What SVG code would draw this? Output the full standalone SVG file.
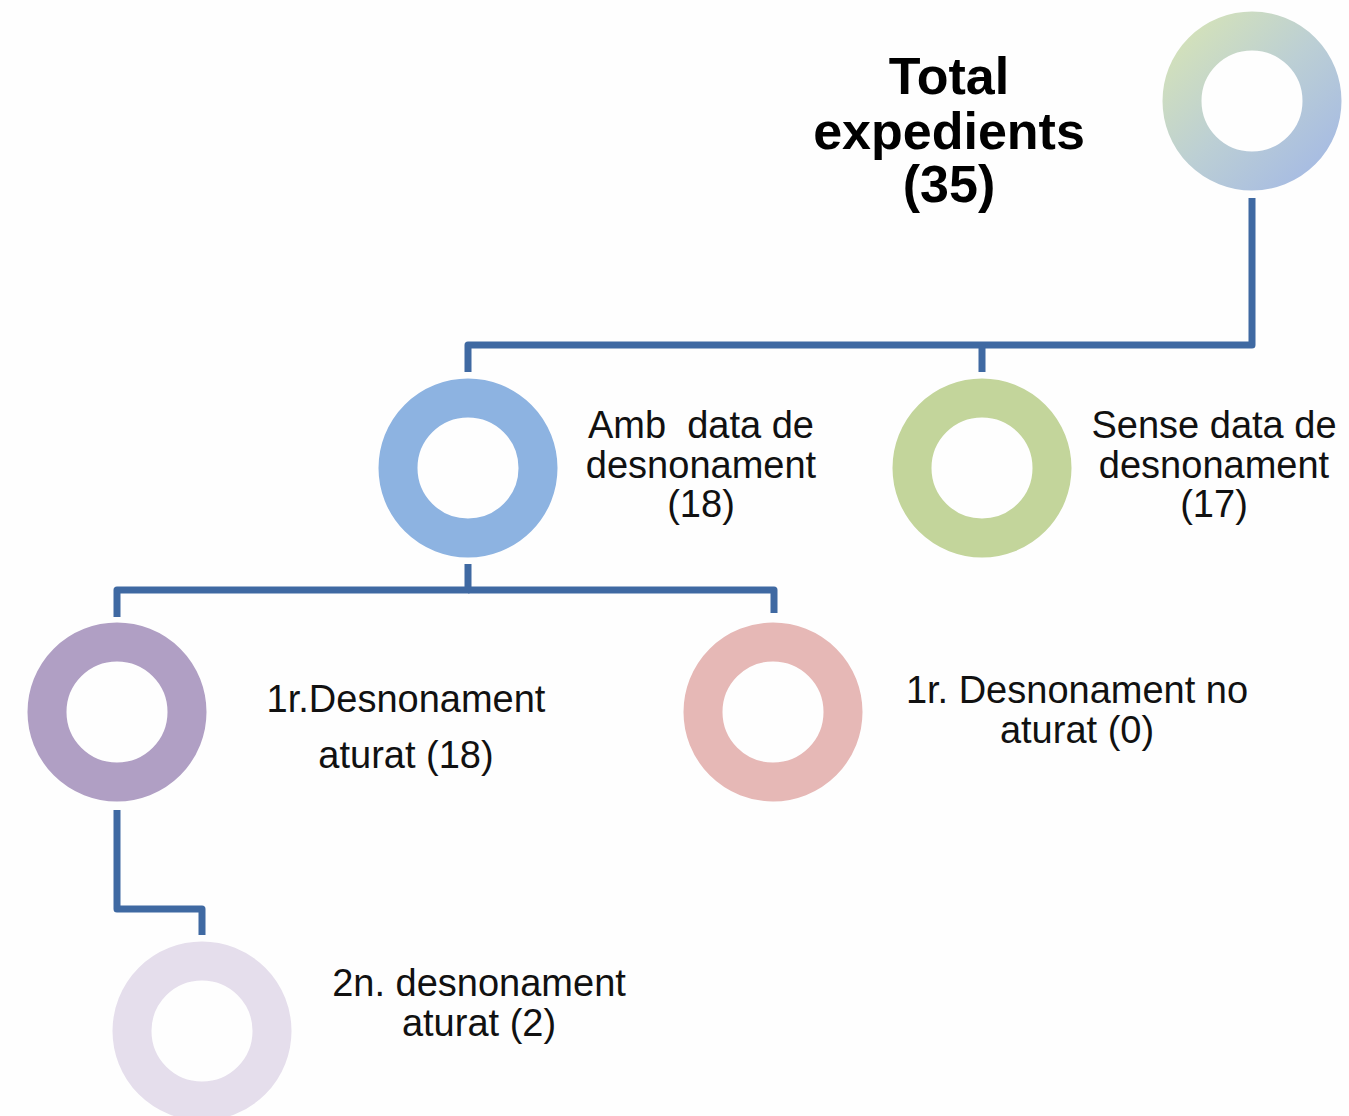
<svg xmlns="http://www.w3.org/2000/svg" width="1349" height="1116" viewBox="0 0 1349 1116">
<style>
.ring{fill:none;stroke-width:39}
.conn{fill:none;stroke:#3f69a2;stroke-width:7;stroke-linejoin:round}
.lbl{font-family:"Liberation Sans",Arial,sans-serif;font-size:38px;fill:#111;text-anchor:middle}
.title{font-family:"Liberation Sans",Arial,sans-serif;font-size:52px;font-weight:bold;fill:#000;text-anchor:middle}
</style>
<defs>
<linearGradient id="g1" x1="0" y1="0" x2="1" y2="1">
<stop offset="0" stop-color="#d4e2b9"/>
<stop offset="0.5" stop-color="#bccfd4"/>
<stop offset="1" stop-color="#a6bbe3"/>
</linearGradient>
</defs>
<rect width="1349" height="1116" fill="#fefefe"/>
<g id="connectors">
<path class="conn" d="M1252,198 V345 H468 V372"/>
<path class="conn" d="M982,345 V372"/>
<path class="conn" d="M468,564 V590 H117 V617"/>
<path class="conn" d="M468,590 H774 V613"/>
<path class="conn" d="M117,810 V909 H202 V935"/>
</g>
<g id="n-total">
<circle class="ring" cx="1252" cy="101" r="70" stroke="url(#g1)"/>
<text class="title"><tspan x="949" y="94">Total</tspan><tspan x="949" y="149">expedients</tspan><tspan x="949" y="202">(35)</tspan></text>
</g>
<g id="n-amb">
<circle class="ring" cx="468" cy="468" r="70" stroke="#8db3e1"/>
<text class="lbl"><tspan x="701" y="438">Amb&#160; data de</tspan><tspan x="701" y="478">desnonament</tspan><tspan x="701" y="517">(18)</tspan></text>
</g>
<g id="n-sense">
<circle class="ring" cx="982" cy="468" r="70" stroke="#c3d59b"/>
<text class="lbl"><tspan x="1214" y="438">Sense data de</tspan><tspan x="1214" y="478">desnonament</tspan><tspan x="1214" y="517">(17)</tspan></text>
</g>
<g id="n-1r-aturat">
<circle class="ring" cx="117" cy="712" r="70" stroke="#b09fc4"/>
<text class="lbl"><tspan x="406" y="712">1r.Desnonament</tspan><tspan x="406" y="768">aturat (18)</tspan></text>
</g>
<g id="n-1r-noaturat">
<circle class="ring" cx="773" cy="712" r="70" stroke="#e6b8b6"/>
<text class="lbl"><tspan x="1077" y="703">1r. Desnonament no</tspan><tspan x="1077" y="743">aturat (0)</tspan></text>
</g>
<g id="n-2n">
<circle class="ring" cx="202" cy="1031" r="70" stroke="#e5deec"/>
<text class="lbl"><tspan x="479" y="996">2n. desnonament</tspan><tspan x="479" y="1036">aturat (2)</tspan></text>
</g>
</svg>
